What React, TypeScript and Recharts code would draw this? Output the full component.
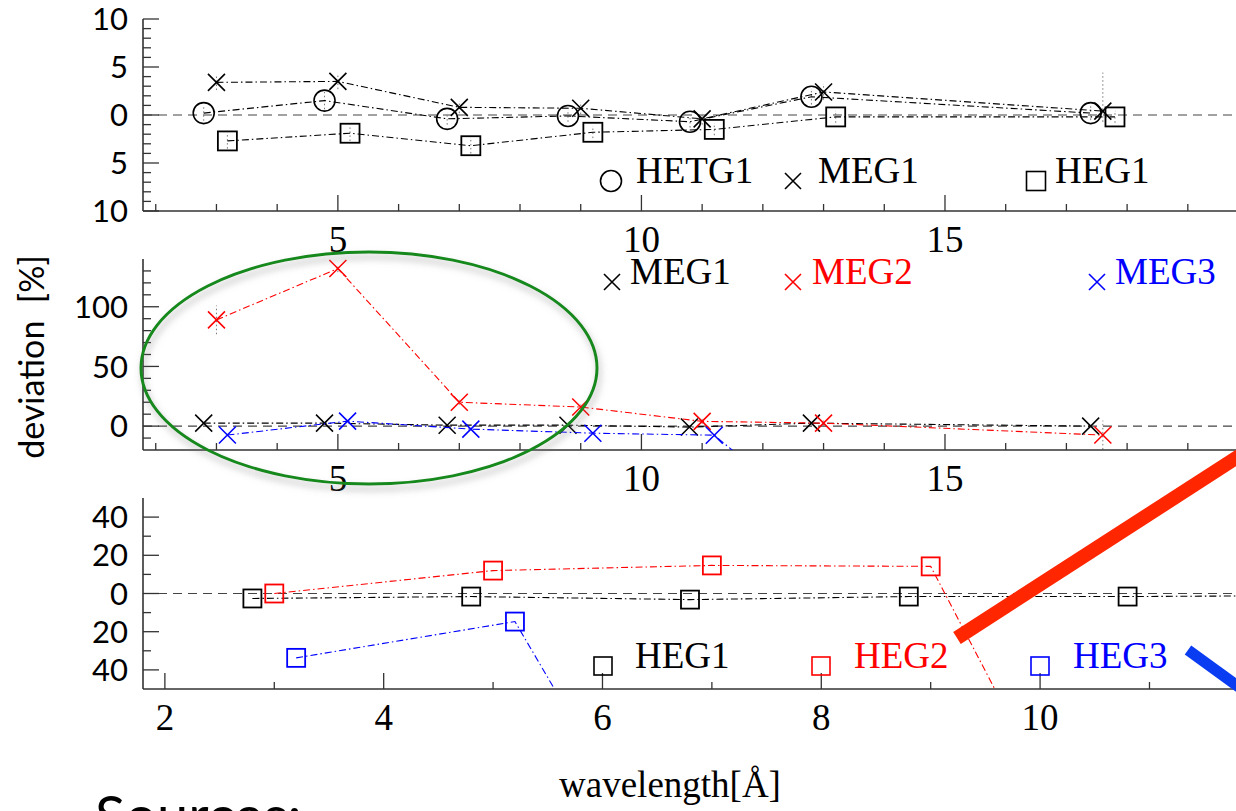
import React from 'react';
import { ComposedChart, Scatter, XAxis, YAxis, ReferenceLine, ErrorBar } from 'recharts';

// top panel (HETG1 / MEG1 / HEG1), deviation in %
const p1Hetg1X = [2.79, 4.78, 6.8, 8.79, 10.8, 12.8, 17.4];
const p1Hetg1Y = [0.2, 1.5, -0.4, -0.1, -0.7, 1.9, 0.2];
const p1Hetg1E = [0.8, 0.9, 0.6, 0.6, 0.6, 0.8, 0.7];
const p1Meg1X = [3.0, 5.0, 7.0, 9.0, 11.0, 13.0, 17.6];
const p1Meg1Y = [3.4, 3.5, 0.8, 0.7, -0.4, 2.4, 0.4];
const p1Meg1E: (number | number[])[] = [0.8, 0.8, 0.6, 0.6, 0.6, 0.8, [1.1, 4.0]];
const p1Heg1X = [3.18, 5.2, 7.19, 9.2, 11.2, 13.2, 17.8];
const p1Heg1Y = [-2.7, -1.9, -3.2, -1.8, -1.5, -0.2, -0.2];
const p1Heg1E = [0.8, 0.8, 0.8, 0.6, 0.6, 0.6, 0.6];

// middle panel (MEG orders)
const p2Meg1X = [2.79, 4.78, 6.8, 8.79, 10.79, 12.8, 17.4];
const p2Meg1Y = [2.5, 2.5, 0.8, 0.8, -0.8, 2.5, 0];
const p2Meg2X = [3.0, 5.0, 7.0, 9.0, 11.0, 13.0, 17.6];
const p2Meg2Y = [89, 132, 20, 16, 4, 2.5, -7.5];
const p2Meg2E = [12, 3, 2, 2, 2, 2, 12];
const p2Meg3X = [3.18, 5.16, 7.19, 9.2, 11.2, 13.2];
const p2Meg3Y = [-7.5, 4.2, -2.5, -5.9, -7.6, -92];

// bottom panel (HEG orders)
const p3Heg1X = [2.8, 4.8, 6.8, 8.8, 10.8, 12.8];
const p3Heg1Y = [-2.6, -1.6, -3.2, -1.6, -1.6, -1.0];
const p3Heg2X = [3.0, 5.0, 7.0, 9.0, 11.0];
const p3Heg2Y = [0, 12, 14.7, 14.2, -205];
const p3Heg3X = [3.2, 5.2, 7.2];
const p3Heg3Y = [-33.7, -14.7, -210];

// ticks
const p12XTicks = [2, 3, 4, 5, 6, 7, 8, 9, 10, 11, 12, 13, 14, 15, 16, 17, 18, 19];
const p12XMajor = [5, 10, 15];
const p1YTicks = [-10, -9, -8, -7, -6, -5, -4, -3, -2, -1, 0, 1, 2, 3, 4, 5, 6, 7, 8, 9, 10];
const p1YMajor = [-10, -5, 0, 5, 10];
const p2YTicks = [-10, 0, 10, 20, 30, 40, 50, 60, 70, 80, 90, 100, 110, 120, 130];
const p2YMajor = [0, 50, 100];
const p3XTicks = [2, 3, 4, 5, 6, 7, 8, 9, 10, 11];
const p3XMajor = [2, 4, 6, 8, 10];
const p3YTicks = [-40, -30, -20, -10, 0, 10, 20, 30, 40];
const p3YMajor = [-40, -20, 0, 20, 40];

const zip = (xs: number[], ys: number[], es?: (number | number[])[]) =>
  xs.map((x, i) => ({ x, y: ys[i], e: es ? es[i] : 0 }));

const SERIF = '"Liberation Serif", "Times New Roman", serif';
const SANS = 'Lato, "Open Sans", sans-serif';
const FRAME = '#333';
const DASHDOT = '7 3 1.5 3';

type Kind = 'circle' | 'cross' | 'square';

function drawMarker(kind: Kind, color: string, s: number, sw: number, cx: number, cy: number) {
  if (kind === 'circle') return <circle cx={cx} cy={cy} r={s} fill="none" stroke={color} strokeWidth={sw} />;
  if (kind === 'square')
    return <rect x={cx - s} y={cy - s} width={2 * s} height={2 * s} fill="none" stroke={color} strokeWidth={sw} />;
  return (
    <path
      d={`M${cx - s} ${cy - s}L${cx + s} ${cy + s}M${cx - s} ${cy + s}L${cx + s} ${cy - s}`}
      stroke={color}
      strokeWidth={sw}
      fill="none"
    />
  );
}

const shapeFor = (kind: Kind, color: string, s: number, sw: number) => (p: any) => {
  if (p.cx == null || p.cy == null) return <g />;
  return drawMarker(kind, color, s, sw, p.cx, p.cy);
};

type Series = {
  name: string;
  data: { x: number; y: number; e: number | number[] }[];
  color: string;
  kind: Kind;
  size: number;
  sw: number;
  errors?: boolean;
};

function Panel({
  plotTop,
  plotH,
  xDomain,
  yDomain,
  xTicks,
  xMajor,
  yTicks,
  yMajor,
  series,
}: {
  plotTop: number;
  plotH: number;
  xDomain: [number, number];
  yDomain: [number, number];
  xTicks: number[];
  xMajor: number[];
  yTicks: number[];
  yMajor: number[];
  series: Series[];
}) {
  const mt = 20;
  const mb = 56;

  const bottomTick = (p: any) => {
    const v = p.payload.value;
    const major = xMajor.includes(v);
    return (
      <g>
        <line x1={p.x} x2={p.x} y1={p.y} y2={p.y - (major ? 16 : 7)} stroke={FRAME} strokeWidth={1.3} />
        {major && (
          <text x={p.x} y={p.y + 41} textAnchor="middle" fontFamily={SERIF} fontSize={37} fill="#000">
            {v}
          </text>
        )}
      </g>
    );
  };
  const topTick = (p: any) => {
    const major = xMajor.includes(p.payload.value);
    return <line x1={p.x} x2={p.x} y1={p.y} y2={p.y + (major ? 16 : 7)} stroke={FRAME} strokeWidth={1.3} />;
  };
  const leftTick = (p: any) => {
    const v = p.payload.value;
    const major = yMajor.includes(v);
    return (
      <g>
        <line x1={p.x} x2={p.x + (major ? 16 : 8)} y1={p.y} y2={p.y} stroke={FRAME} strokeWidth={1.3} />
        {major && (
          <text x={p.x - 15} y={p.y} dy="0.36em" textAnchor="end" fontFamily={SANS} fontSize={31} fill="#000">
            {Math.abs(v)}
          </text>
        )}
      </g>
    );
  };
  const rightTick = (p: any) => {
    const major = yMajor.includes(p.payload.value);
    return <line x1={p.x} x2={p.x - (major ? 16 : 8)} y1={p.y} y2={p.y} stroke={FRAME} strokeWidth={1.3} />;
  };

  const axisLine = { stroke: FRAME, strokeWidth: 1.6 };

  return (
    <div style={{ position: 'absolute', left: 0, top: plotTop - mt }}>
      <ComposedChart width={1240} height={plotH + mt + mb} margin={{ top: mt, right: 3, bottom: 0, left: 83 }}>
        <XAxis
          xAxisId="b"
          dataKey="x"
          type="number"
          domain={xDomain}
          allowDataOverflow
          ticks={xTicks}
          interval={0}
          tickSize={0}
          tickMargin={0}
          height={mb}
          axisLine={axisLine}
          tickLine={false}
          tick={bottomTick}
        />
        <XAxis
          xAxisId="t"
          orientation="top"
          type="number"
          domain={xDomain}
          allowDataOverflow
          ticks={xTicks}
          interval={0}
          tickSize={0}
          tickMargin={0}
          height={0}
          axisLine={axisLine}
          tickLine={false}
          tick={topTick}
        />
        <YAxis
          yAxisId="l"
          dataKey="y"
          type="number"
          domain={yDomain}
          allowDataOverflow
          ticks={yTicks}
          interval={0}
          tickSize={0}
          tickMargin={0}
          width={60}
          axisLine={axisLine}
          tickLine={false}
          tick={leftTick}
        />
        <YAxis
          yAxisId="r"
          orientation="right"
          type="number"
          domain={yDomain}
          allowDataOverflow
          ticks={yTicks}
          interval={0}
          tickSize={0}
          tickMargin={0}
          width={0}
          axisLine={axisLine}
          tickLine={false}
          tick={rightTick}
        />
        <ReferenceLine xAxisId="b" yAxisId="l" y={0} stroke="#444" strokeWidth={1.2} strokeDasharray="9 6" />
        {series.map((s) => (
          <Scatter
            key={s.name}
            name={s.name}
            xAxisId="b"
            yAxisId="l"
            data={s.data}
            dataKey="y"
            line={{ stroke: s.color, strokeWidth: 1.1, strokeDasharray: DASHDOT }}
            lineType="joint"
            shape={shapeFor(s.kind, s.color, s.size, s.sw)}
            isAnimationActive={false}
          >
            {s.errors && (
              <ErrorBar dataKey="e" direction="y" width={0} stroke="#777" strokeWidth={1} strokeDasharray="1.5 2.5" />
            )}
          </Scatter>
        ))}
      </ComposedChart>
    </div>
  );
}

const legend1 = [
  { kind: 'circle' as Kind, color: '#000', label: 'HETG1', mx: 611, tx: 636, y: 182, s: 10.5 },
  { kind: 'cross' as Kind, color: '#000', label: 'MEG1', mx: 793, tx: 818, y: 182, s: 8 },
  { kind: 'square' as Kind, color: '#000', label: 'HEG1', mx: 1036, tx: 1055, y: 182, s: 9.5 },
];
const legend2 = [
  { kind: 'cross' as Kind, color: '#000', label: 'MEG1', mx: 612, tx: 630, y: 283, s: 8 },
  { kind: 'cross' as Kind, color: '#ff0000', label: 'MEG2', mx: 793, tx: 812, y: 283, s: 8 },
  { kind: 'cross' as Kind, color: '#0000ff', label: 'MEG3', mx: 1097, tx: 1115, y: 283, s: 8 },
];
const legend3 = [
  { kind: 'square' as Kind, color: '#000', label: 'HEG1', mx: 603, tx: 635, y: 667, s: 9 },
  { kind: 'square' as Kind, color: '#ff0000', label: 'HEG2', mx: 821, tx: 854, y: 667, s: 9 },
  { kind: 'square' as Kind, color: '#0000ff', label: 'HEG3', mx: 1040, tx: 1073, y: 667, s: 9 },
];

export default function App() {
  const top: Series[] = [
    { name: 'HETG1', data: zip(p1Hetg1X, p1Hetg1Y, p1Hetg1E), color: '#000', kind: 'circle', size: 10.5, sw: 1.6, errors: true },
    { name: 'MEG1', data: zip(p1Meg1X, p1Meg1Y, p1Meg1E), color: '#000', kind: 'cross', size: 8.5, sw: 1.6, errors: true },
    { name: 'HEG1', data: zip(p1Heg1X, p1Heg1Y, p1Heg1E), color: '#000', kind: 'square', size: 9.5, sw: 1.8, errors: true },
  ];
  const mid: Series[] = [
    { name: 'MEG1', data: zip(p2Meg1X, p2Meg1Y), color: '#000', kind: 'cross', size: 8.5, sw: 1.5 },
    { name: 'MEG2', data: zip(p2Meg2X, p2Meg2Y, p2Meg2E), color: '#ff0000', kind: 'cross', size: 8.5, sw: 1.5, errors: true },
    { name: 'MEG3', data: zip(p2Meg3X, p2Meg3Y), color: '#0000ff', kind: 'cross', size: 8.5, sw: 1.5 },
  ];
  const bot: Series[] = [
    { name: 'HEG1', data: zip(p3Heg1X, p3Heg1Y), color: '#000', kind: 'square', size: 9, sw: 1.8 },
    { name: 'HEG2', data: zip(p3Heg2X, p3Heg2Y), color: '#ff0000', kind: 'square', size: 9, sw: 1.8 },
    { name: 'HEG3', data: zip(p3Heg3X, p3Heg3Y), color: '#0000ff', kind: 'square', size: 9, sw: 1.8 },
  ];

  const legendItems = [...legend1, ...legend2, ...legend3];

  return (
    <div
      style={{
        position: 'absolute',
        left: 0,
        top: 0,
        width: 1236,
        height: 811,
        overflow: 'hidden',
        background: '#fff',
      }}
    >
      <Panel
        plotTop={19}
        plotH={192}
        xDomain={[1.79, 19.81]}
        yDomain={[-10, 10]}
        xTicks={p12XTicks}
        xMajor={p12XMajor}
        yTicks={p1YTicks}
        yMajor={p1YMajor}
        series={top}
      />
      <Panel
        plotTop={259}
        plotH={191}
        xDomain={[1.79, 19.81]}
        yDomain={[-20, 140]}
        xTicks={p12XTicks}
        xMajor={p12XMajor}
        yTicks={p2YTicks}
        yMajor={p2YMajor}
        series={mid}
      />
      <Panel
        plotTop={498}
        plotH={191}
        xDomain={[1.8, 11.8]}
        yDomain={[-50, 50]}
        xTicks={p3XTicks}
        xMajor={p3XMajor}
        yTicks={p3YTicks}
        yMajor={p3YMajor}
        series={bot}
      />
      <svg
        width={1236}
        height={811}
        style={{ position: 'absolute', left: 0, top: 0, pointerEvents: 'none' }}
      >
        <defs>
          <filter id="sh" x="-20%" y="-20%" width="140%" height="150%">
            <feDropShadow dx="2" dy="5" stdDeviation="3.5" floodColor="#777" floodOpacity="0.55" />
          </filter>
        </defs>
        {legendItems.map((l, i) => (
          <g key={i}>
            {drawMarker(l.kind, l.color, l.s, 1.6, l.mx, l.y - 1)}
            <text x={l.tx} y={l.y + 1} fontFamily={SERIF} fontSize={37} fill={l.color}>
              {l.label}
            </text>
          </g>
        ))}
        <text
          x={32}
          y={357}
          transform="rotate(-90 32 357)"
          textAnchor="middle"
          dy="0.36em"
          fontFamily={SANS}
          fontSize={34}
          fill="#000"
          style={{ whiteSpace: 'pre' }}
        >
          {'deviation  [%]'}
        </text>
        <text x={670} y={797} textAnchor="middle" fontFamily={SERIF} fontSize={37} fill="#000">
          wavelength[Å]
        </text>
        <text x={95} y={836} fontFamily={SANS} fontSize={56} fill="#000">
          Sources:
        </text>
        <ellipse cx={369} cy={368} rx={228} ry={116} fill="none" stroke="#17891d" strokeWidth={3} filter="url(#sh)" />
        <line x1={957} y1={638} x2={1250} y2={449} stroke="#ff2600" strokeWidth={14} />
        <line x1={1188} y1={650} x2={1250} y2={695} stroke="#0a3cf2" strokeWidth={11} />
      </svg>
    </div>
  );
}
